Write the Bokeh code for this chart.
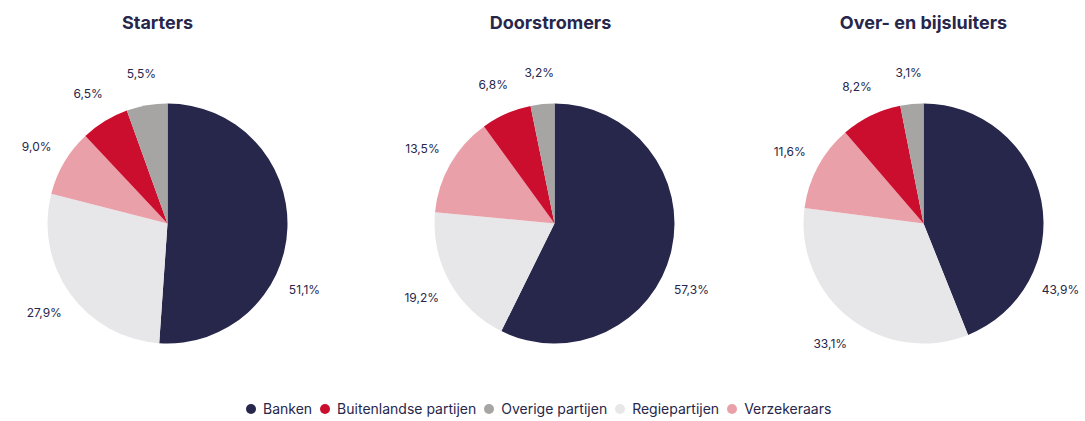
import math
from bokeh.plotting import figure
from bokeh.models import Range1d, ColumnDataSource, Legend, LegendItem
from bokeh.core.properties import value
from bokeh.embed import file_html
from bokeh.resources import INLINE

# ---------------- data ----------------
TITLES = ["Starters", "Doorstromers", "Over- en bijsluiters"]
SLICE_ORDER = ["Banken", "Regiepartijen", "Verzekeraars", "Buitenlandse partijen", "Overige partijen"]
STARTERS = [51.1, 27.9, 9.0, 6.5, 5.5]
DOORSTROMERS = [57.3, 19.2, 13.5, 6.8, 3.2]
OVER_BIJSLUITERS = [43.9, 33.1, 11.6, 8.2, 3.1]
LEGEND_ORDER = ["Banken", "Buitenlandse partijen", "Overige partijen", "Regiepartijen", "Verzekeraars"]

COLORS = {
    "Banken": "#27264b",
    "Buitenlandse partijen": "#cc0e2e",
    "Overige partijen": "#a6a5a3",
    "Regiepartijen": "#e7e7e9",
    "Verzekeraars": "#e9a0a9",
}

# ---------------- layout ----------------
W, H = 1080, 421
FONT = "Inter"
TEXT_COLOR = "#27264b"
RADIUS = 120
LABEL_R = 152
PIE_CX = [167, 554, 923]
PIE_CY_SCREEN = 223
TITLE_X = [157, 550, 923]
TITLE_Y_SCREEN = 22
FIRST_LABEL_ANGLE = 115.7  # degrees clockwise from top for the largest (first) slice


def sy(screen_y):
    return 421 - screen_y


p = figure(width=W, height=H, x_range=Range1d(0, W), y_range=Range1d(421 - H, 421),
           output_backend="svg", toolbar_location=None, min_border=0,
           x_axis_location=None, y_axis_location=None)
p.grid.visible = False
p.outline_line_color = None
p.background_fill_color = "white"
p.border_fill_color = "white"

cy = sy(PIE_CY_SCREEN)
for title, vals, cx, tx in zip(TITLES, [STARTERS, DOORSTROMERS, OVER_BIJSLUITERS], PIE_CX, TITLE_X):
    total = sum(vals)
    starts, ends, cols = [], [], []
    lx, ly, lt = [], [], []
    cum = 0.0
    for i, (name, v) in enumerate(zip(SLICE_ORDER, vals)):
        f0 = cum / total
        f1 = (cum + v) / total
        cum += v
        a0 = math.pi / 2 - f0 * 2 * math.pi
        a1 = math.pi / 2 - f1 * 2 * math.pi
        starts.append(a1)
        ends.append(a0)
        cols.append(COLORS[name])
        if i == 0:
            theta = math.radians(FIRST_LABEL_ANGLE)
        else:
            theta = (f0 + f1) / 2 * 2 * math.pi
        lx.append(cx + LABEL_R * math.sin(theta))
        ly.append(cy + LABEL_R * math.cos(theta))
        lt.append(f"{v:.1f}".replace(".", ",") + "%")
    src = ColumnDataSource(dict(start=starts, end=ends, color=cols))
    p.wedge(x=cx, y=cy, radius=RADIUS, start_angle="start", end_angle="end",
            direction="anticlock", fill_color="color", line_color=None, source=src)
    p.text(x=lx, y=ly, text=lt, text_align="center", text_baseline="middle",
           text_font=value(FONT), text_font_size="12px", text_color=TEXT_COLOR)
    p.text(x=[tx], y=[sy(TITLE_Y_SCREEN)], text=[title], text_align="center",
           text_baseline="middle", text_font=value(FONT), text_font_size="18px",
           text_font_style="bold", text_color=TEXT_COLOR)

items = []
for name in LEGEND_ORDER:
    r = p.scatter(x=[-1000], y=[-1000], marker="circle", size=10,
                  fill_color=COLORS[name], line_color=None)
    items.append(LegendItem(label=name, renderers=[r]))

legend = Legend(items=items, orientation="horizontal", location=(238, 0),
                glyph_width=25, glyph_height=25, label_standoff=0, spacing=0,
                padding=0, margin=0, border_line_color=None, background_fill_alpha=0,
                label_text_font=FONT, label_text_font_size="14px", label_text_color=TEXT_COLOR)
p.add_layout(legend)

open("out.html", "w").write(file_html(p, INLINE))
